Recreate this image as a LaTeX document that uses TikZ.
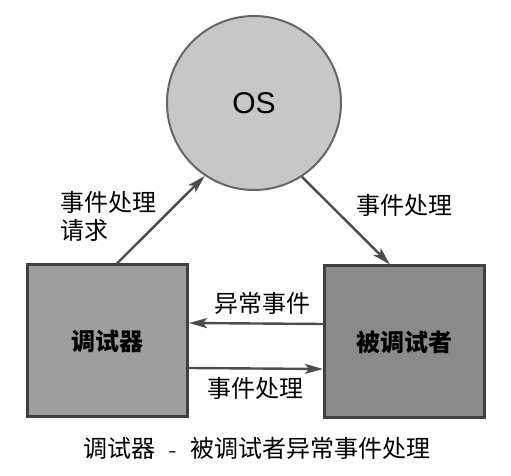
\documentclass[tikz,border=0pt]{standalone}
\usepackage{fontspec}
\setmainfont{Liberation Sans}
\newfontfamily\cjk{Noto Sans CJK SC}
\usepackage{tikz}
\usetikzlibrary{arrows.meta,positioning}

\begin{document}
\begin{tikzpicture}[
  x=0.5pt, y=-0.5pt,
  osnode/.style={circle, draw=black!60, line width=1pt, fill=black!22, minimum size=87pt, inner sep=0pt, font=\fontsize{15}{18}\selectfont},
  proc/.style={rectangle, draw=black!75, line width=1.5pt, minimum width=80pt, minimum height=76pt, font=\cjk\bfseries\fontsize{12}{14}\selectfont},
  lbl/.style={font=\cjk\fontsize{12}{14}\selectfont, inner sep=0pt, align=left},
  every edge/.style={draw=black!70, line width=1.2pt, -{Stealth[length=9pt,width=5pt,inset=2pt]}}
]
  \useasboundingbox (0,0) rectangle (511,476);

  \node[osnode] (os) at (254,103) {OS};
  \node[proc, fill=black!38] (dbg) at (107.5,341) {调试器};
  \node[proc, fill=black!46] (dbe) at (404.5,342) {被调试者};

  \node[lbl, anchor=west] (req) at (60,216) {事件处理\\请求};
  \node[lbl] (osproc) at (405,205) {事件处理};
  \node[lbl] (exc) at (263,303) {异常事件};
  \node[lbl] (hand) at (256,388) {事件处理};
  \node[lbl] (cap) at (257,448) {调试器\hspace{7pt}{\fontfamily{lmr}\selectfont -}\hspace{7pt}被调试者异常事件处理};

  \path
    ([xshift=4.75pt]dbg.north) edge (os.236)
    (os.303) edge ([xshift=-7.25pt]dbe.north)
    ([yshift=9pt]dbe.west) edge ([yshift=9pt]dbg.east)
    ([yshift=-13.5pt]dbg.east) edge ([yshift=-13.5pt]dbe.west);
\end{tikzpicture}
\end{document}
